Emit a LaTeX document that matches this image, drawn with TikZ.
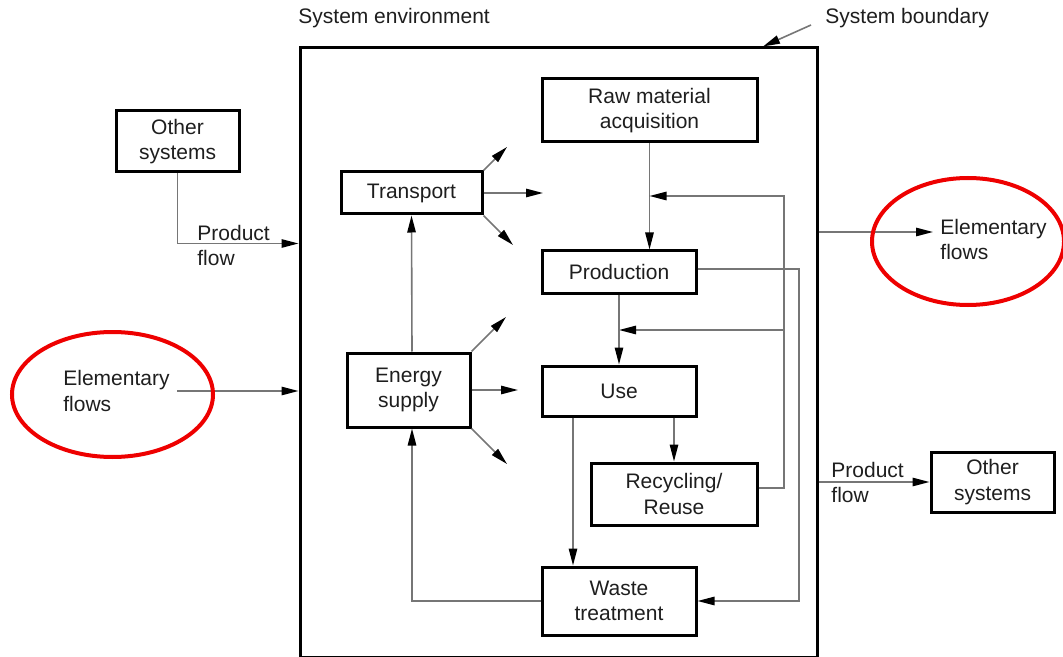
\documentclass[tikz,border=0pt]{standalone}
\usepackage{fontspec}
\setmainfont{Liberation Sans}
\usepackage{xcolor}
\usetikzlibrary{arrows.meta}

\definecolor{linegray}{HTML}{767676}
\definecolor{textgray}{HTML}{1E1E1E}
\definecolor{ringred}{HTML}{EE0000}

\begin{document}
\begin{tikzpicture}[x=0.5pt, y=-0.5pt, font=\fontsize{10.5}{12.8}\selectfont, text=textgray]
    \tikzstyle{proc}=[draw, rectangle, line width=1.5pt, inner sep=0pt, align=center]
    \tikzstyle{label}=[anchor=west, inner sep=0pt, align=left]
    \tikzstyle{flowline}=[draw=linegray, line width=0.8pt, -{Triangle[length=8.5pt, width=4.2pt, color=black]}]
    \tikzstyle{ring}=[draw=ringred, line width=2pt]
    \useasboundingbox (0,0) rectangle (1063,657);
    % system boundary and headings
    \node[proc, minimum width=258.5pt, minimum height=304.5pt] (sys) at (558.5,352.5) {};
    \node[label] (env) at (298,18) {System environment};
    \node[label] (bound) at (825,18) {System boundary};
    \draw[flowline] ([xshift=-7pt, yshift=-3.5pt]bound.west) -- ([xshift=102.25pt]sys.north);
    % processes inside the system
    \node[proc, minimum width=107.5pt, minimum height=31.5pt] (raw) at (649.5,110.5) {Raw material\\acquisition};
    \node[proc, minimum width=70.5pt, minimum height=21pt] (trans) at (411.5,193) {Transport};
    \node[proc, minimum width=77pt, minimum height=21pt] (prod) at (619,272) {Production};
    \node[proc, minimum width=61.5pt, minimum height=37pt] (energy) at (408.5,390) {Energy\\supply};
    \node[proc, minimum width=77pt, minimum height=25pt] (use) at (619,391) {Use};
    \node[proc, minimum width=83pt, minimum height=31pt] (rec) at (674,494) {Recycling/\\Reuse};
    \node[proc, minimum width=77pt, minimum height=34pt] (waste) at (619,601) {Waste\\treatment};
    % flows between processes
    \coordinate (loopA) at (784,196);
    \coordinate (loopB) at (784,330);
    \coordinate (loopC) at (799,269);
    \draw[flowline] (raw.south) -- (raw.south |- prod.north);
    \draw[flowline] ([yshift=3pt]rec.east) -| (loopA) -- (raw.south |- loopA);
    \draw[flowline] (loopB) -- (prod.south |- loopB);
    \draw[flowline] (prod.south) -- (use.north);
    \draw[flowline] ([yshift=1.5pt]prod.east) -- (loopC) |- (waste.east);
    \draw[flowline] (use.south -| rec.north) -- (rec.north);
    \draw[flowline] ([xshift=-23pt]use.south) -- ([xshift=-23pt]waste.north);
    \draw[flowline] (waste.west) -| ([xshift=1.75pt]energy.south);
    \draw[flowline] ([xshift=1.75pt]energy.north) -- (trans.south);
    % outputs of transport and energy supply
    \coordinate (transA) at (507,147);
    \coordinate (transB) at (543,193);
    \coordinate (transC) at (513,245);
    \coordinate (energyA) at (506,317);
    \coordinate (energyB) at (518,390);
    \coordinate (energyC) at (507,464);
    \draw[flowline] (trans.north east) -- (transA);
    \draw[flowline] (trans.east) -- (transB);
    \draw[flowline] (trans.south east) -- (transC);
    \draw[flowline] (energy.north east) -- (energyA);
    \draw[flowline] (energy.east) -- (energyB);
    \draw[flowline] (energy.south east) -- (energyC);
    % system environment
    \node[proc, minimum width=61.5pt, minimum height=30.5pt] (othL) at (177.5,141.5) {Other\\systems};
    \node[proc, minimum width=61.5pt, minimum height=30pt] (othR) at (992.5,482) {Other\\systems};
    \node[label] (pfL) at (197,245.5) {Product\\flow};
    \node[label] (pfR) at (831,482.5) {Product\\flow};
    \node[label] (elemL) at (63,391) {Elementary\\flows};
    \node[label] (elemR) at (940,239.5) {Elementary\\flows};
    \coordinate (elemLout) at (177,391);
    \coordinate (elemRin) at (933,232);
    \draw[flowline] (othL.south) |- ([yshift=54.5pt]sys.west);
    \draw[flowline] (elemLout) -- (elemLout -| sys.west);
    \draw[flowline] (elemRin -| sys.east) -- (elemRin);
    \draw[flowline] (sys.east |- othR.west) -- (othR.west);
    % red marks
    \draw[ring] (112.5,394.5) ellipse [x radius=100.5, y radius=62.5];
    \draw[ring] (968,241.5) ellipse [x radius=96, y radius=63.5];
\end{tikzpicture}
\end{document}
